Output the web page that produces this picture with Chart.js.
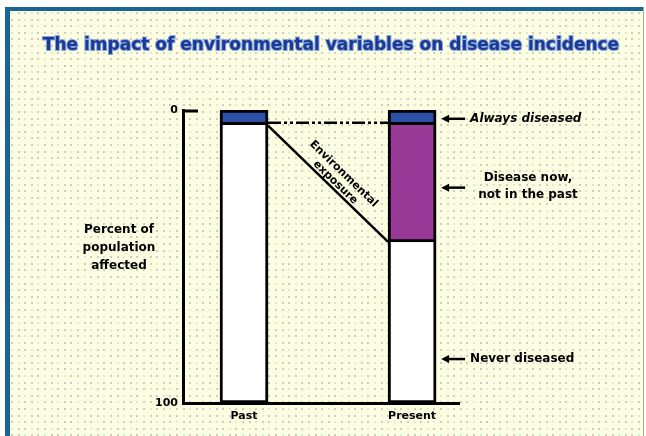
<!DOCTYPE html>
<html>
<head>
<meta charset="utf-8">
<script src="https://cdn.jsdelivr.net/npm/chart.js@4"></script>
<style>
  html, body { margin: 0; padding: 0; background: #ffffff; }
  canvas { display: block; }
</style>
</head>
<body>
<canvas id="c" width="646" height="436"></canvas>
<script>
// Chart data
const categories = ['Past', 'Present'];
const categoryPos = [1, 2];
const alwaysDiseased = [5, 5];
const diseaseNowNotPast = [0, 40];
const neverDiseased = [95, 55];
const yTickValues = [0, 100];
const yTickLabels = ['0', '100'];

// Right-hand callouts: text lines and the percentage they point at
const calloutLines = [['Always diseased'], ['Disease now,', 'not in the past'], ['Never diseased']];
const calloutValues = [3, 26.5, 85];
const calloutItalic = [true, false, false];

const titleText = 'The impact of environmental variables on disease incidence';
const yTitleLines = ['Percent of', 'population', 'affected'];
const slopeLines = ['Environmental', 'exposure'];

const FONT = '"DejaVu Sans", "Liberation Sans", sans-serif';

// Pale dotted backdrop with a blue frame
const backdrop = {
  id: 'backdrop',
  beforeDraw(chart) {
    const ctx = chart.ctx;
    const W = chart.width, H = chart.height;
    ctx.save();
    ctx.fillStyle = '#ffffff';
    ctx.fillRect(0, 0, W, H);
    ctx.fillStyle = '#fdfde2';
    ctx.fillRect(8, 9, W - 11, H - 9);
    let row = 0;
    for (let y = 12; y < H; y += 6.6, row++) {
      let col = 0;
      for (let x = 11; x < W - 4; x += 6.6, col++) {
        ctx.fillStyle = ((row + col) % 3 === 0) ? '#d3f0d9' : '#cdcdc6';
        ctx.fillRect(Math.round(x), Math.round(y), 2, 2);
      }
    }
    ctx.fillStyle = '#1a6494';
    ctx.fillRect(5, 7, W - 7, 4);
    ctx.fillRect(5, 7, 5, H - 7);
    ctx.fillStyle = '#9ab0a8';
    ctx.fillRect(W - 3, 7, 1, H - 7);
    ctx.restore();
  }
};

function arrowLeft(ctx, xTip, xTail, y) {
  ctx.beginPath();
  ctx.moveTo(xTail, y);
  ctx.lineTo(xTip + 5, y);
  ctx.lineWidth = 2.5;
  ctx.strokeStyle = '#000';
  ctx.stroke();
  ctx.beginPath();
  ctx.moveTo(xTip, y);
  ctx.lineTo(xTip + 8, y - 4);
  ctx.lineTo(xTip + 8, y + 4);
  ctx.closePath();
  ctx.fillStyle = '#000';
  ctx.fill();
}

// Title, axis caption, connector lines and callouts
const annotations = {
  id: 'annotations',
  afterDraw(chart) {
    const ctx = chart.ctx;
    const ys = chart.scales.y;
    const ca = chart.chartArea;
    const past = chart.getDatasetMeta(0).data[0];
    const present = chart.getDatasetMeta(0).data[1];
    const pastRight = past.x + past.width / 2;
    const presentLeft = present.x - present.width / 2;
    const presentRight = present.x + present.width / 2;

    ctx.save();
    // title
    ctx.font = 'bold 17px ' + FONT;
    ctx.textAlign = 'center';
    ctx.textBaseline = 'middle';
    ctx.lineWidth = 2;
    ctx.strokeStyle = '#8aa8dc';
    ctx.strokeText(titleText, 331, 46);
    ctx.fillStyle = '#1a3a96';
    ctx.fillText(titleText, 331, 46);

    // y caption
    ctx.fillStyle = '#000';
    ctx.font = 'bold 12px ' + FONT;
    yTitleLines.forEach((t, i) => ctx.fillText(t, 119, 230 + i * 18));

    // top tick on the axis
    ctx.beginPath();
    ctx.moveTo(ca.left, ys.getPixelForValue(0) + 1);
    ctx.lineTo(ca.left + 15, ys.getPixelForValue(0) + 1);
    ctx.lineWidth = 3;
    ctx.strokeStyle = '#000';
    ctx.stroke();

    // dash-dot connector at the "always diseased" level
    const yAlways = ys.getPixelForValue(alwaysDiseased[0]) - 2;
    ctx.beginPath();
    ctx.setLineDash([13, 3, 3, 3, 3, 3]);
    ctx.moveTo(pastRight, yAlways);
    ctx.lineTo(presentLeft, yAlways);
    ctx.lineWidth = 2.5;
    ctx.stroke();
    ctx.setLineDash([]);

    // sloped connector to the bottom of the new-disease segment
    const y0 = ys.getPixelForValue(alwaysDiseased[0]) + 1;
    const y1 = ys.getPixelForValue(alwaysDiseased[1] + diseaseNowNotPast[1]);
    ctx.beginPath();
    ctx.moveTo(pastRight, y0);
    ctx.lineTo(presentLeft, y1);
    ctx.lineWidth = 2.5;
    ctx.stroke();

    // text along the slope
    const ang = Math.atan2(y1 - y0, presentLeft - pastRight);
    const mx = (pastRight + presentLeft) / 2 + 3, my = (y0 + y1) / 2 + 3;
    ctx.translate(mx + 12 * Math.sin(ang), my - 12 * Math.cos(ang));
    ctx.rotate(ang);
    ctx.font = 'bold 11px ' + FONT;
    ctx.fillStyle = '#000';
    ctx.fillText(slopeLines[0], 0, -6);
    ctx.fillText(slopeLines[1], 0, 6);
    ctx.setTransform(1, 0, 0, 1, 0, 0);

    // callouts
    calloutLines.forEach((lines, i) => {
      const y = ys.getPixelForValue(calloutValues[i]);
      arrowLeft(ctx, presentRight + 5, presentRight + 29, y);
      ctx.font = (calloutItalic[i] ? 'italic ' : '') + 'bold 12px ' + FONT;
      ctx.fillStyle = '#000';
      if (lines.length === 1) {
        ctx.textAlign = 'left';
        ctx.fillText(lines[0], presentRight + 34, y);
      } else {
        ctx.textAlign = 'center';
        lines.forEach((t, k) => ctx.fillText(t, 528, y - 10 + k * 17));
      }
    });
    ctx.restore();
  }
};

const segBorder = { top: 0, left: 3, right: 3, bottom: 3 };
const pts = (arr) => arr.map((v, i) => ({ x: categoryPos[i], y: v }));

new Chart(document.getElementById('c'), {
  type: 'bar',
  data: {
    datasets: [
      { label: 'Always diseased', data: pts(alwaysDiseased), backgroundColor: '#2d50a8',
        borderColor: '#000', borderWidth: { top: 3, left: 3, right: 3, bottom: 3 }, borderSkipped: false },
      { label: 'Disease now, not in the past', data: pts(diseaseNowNotPast), backgroundColor: '#983a98',
        borderColor: '#000', borderWidth: segBorder, borderSkipped: false },
      { label: 'Never diseased', data: pts(neverDiseased), backgroundColor: '#ffffff',
        borderColor: '#000', borderWidth: segBorder, borderSkipped: false }
    ]
  },
  options: {
    responsive: false,
    animation: false,
    barThickness: 48,
    layout: { padding: { left: 143, right: 187, top: 110, bottom: 3 } },
    plugins: { legend: { display: false }, tooltip: { enabled: false }, title: { display: false } },
    scales: {
      x: {
        type: 'linear', stacked: true, offset: false, min: 0.637, max: 2.279,
        afterBuildTicks: (s) => { s.ticks = categoryPos.map(v => ({ value: v })); },
        afterFit: (s) => { s.height = 30; },
        grid: { display: false, drawTicks: false },
        border: { display: true, color: '#000', width: 3 },
        ticks: { padding: 7, color: '#000', font: { family: FONT, weight: 'bold', size: 11 },
          callback: (v) => categories[categoryPos.indexOf(v)] }
      },
      y: {
        stacked: true, reverse: true, min: 0, max: 100,
        afterBuildTicks: (s) => { s.ticks = yTickValues.map(v => ({ value: v })); },
        afterFit: (s) => { s.width = 40; },
        grid: { display: false, drawTicks: false },
        border: { display: true, color: '#000', width: 3 },
        ticks: { padding: 5, color: '#000', font: { family: FONT, weight: 'bold', size: 11 },
          callback: (v) => yTickLabels[yTickValues.indexOf(v)] }
      }
    }
  },
  plugins: [backdrop, annotations]
});
</script>
</body>
</html>
